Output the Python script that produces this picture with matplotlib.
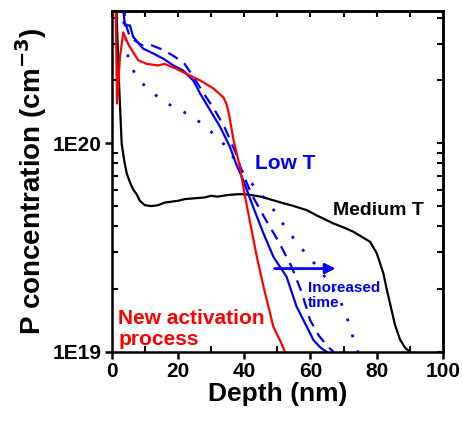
import matplotlib
matplotlib.use("Agg")
import matplotlib.pyplot as plt
from matplotlib.ticker import FixedLocator, LogLocator, NullFormatter, MultipleLocator

plt.rcParams['font.family'] = ['Liberation Sans', 'DejaVu Sans']
plt.rcParams['font.weight'] = 'bold'

# Medium T (black)
med_x = [1.4, 2.0, 3.0, 3.7, 4.5, 5.5, 6.5, 7.5, 8.5, 10, 12, 14, 16, 18, 20, 22, 25, 28, 30, 32,
         35, 38, 40, 42, 45, 48.8, 52, 55, 58.9, 62, 66.9, 70, 72.9, 75, 78, 80, 82, 83, 84, 85.5,
         87, 88.5, 90, 91]
med_y = [4.6e20, 2.31e20, 1.0e20, 8.4e19, 7.2e19, 6.5e19, 6.0e19, 5.7e19, 5.3e19, 5.05e19, 5.0e19,
         5.05e19, 5.2e19, 5.25e19, 5.3e19, 5.4e19, 5.45e19, 5.5e19, 5.6e19, 5.55e19, 5.65e19, 5.7e19,
         5.7e19, 5.65e19, 5.55e19, 5.33e19, 5.15e19, 5.0e19, 4.78e19, 4.5e19, 4.13e19, 3.95e19,
         3.77e19, 3.6e19, 3.37e19, 2.97e19, 2.38e19, 2.0e19, 1.71e19, 1.35e19, 1.15e19, 1.05e19,
         1.0e19, 0.98e19]

# New activation process (red)
new_x = [1.2, 1.6, 2.5, 3.5, 4.5, 5.5, 8, 10.6, 14, 16, 19.6, 22.6, 26.7, 30.7, 33.7, 34.6, 35.4,
         36.7, 38.7, 40.2, 42, 43.8, 46, 48.8, 51, 52.3]
new_y = [4.6e20, 1.55e20, 2.6e20, 3.4e20, 3.1e20, 2.89e20, 2.5e20, 2.4e20, 2.36e20, 2.4e20, 2.27e20,
         2.15e20, 2.0e20, 1.83e20, 1.66e20, 1.55e20, 1.38e20, 1.05e20, 7.7e19, 5.6e19, 4.0e19,
         2.86e19, 2.0e19, 1.32e19, 1.12e19, 1.0e19]

# Low T, shortest time (blue solid)
low1_x = [3.2, 3.6, 4.0, 5.5, 6.5, 9.5, 12.6, 15.6, 18.6, 21.6, 24.6, 26.7, 29.7, 32.7, 35.7, 37.5,
          39.7, 42.7, 45.8, 48.8, 50.5, 52.8, 55.8, 58.9, 60.9, 63, 64.9]
low1_y = [4.6e20, 4.2e20, 3.67e20, 3.67e20, 3.23e20, 2.84e20, 2.69e20, 2.54e20, 2.36e20, 2.23e20,
          2.0e20, 1.73e20, 1.44e20, 1.2e20, 9.6e19, 8.0e19, 6.65e19, 4.95e19, 3.7e19, 2.86e19,
          2.6e19, 2.29e19, 1.65e19, 1.32e19, 1.14e19, 1.05e19, 1.0e19]

# Low T, longer time (blue dashed)
low2_x = [3.5, 4.5, 5.5, 9, 12, 15.6, 19, 22, 24.5, 27.6, 31, 34, 37.3, 39.5, 42.2, 46.3, 50.3,
          54.3, 57.3, 59.9, 62.5, 65, 67]
low2_y = [4.6e20, 3.6e20, 3.23e20, 2.95e20, 2.95e20, 2.8e20, 2.6e20, 2.4e20, 2.1e20, 1.75e20,
          1.45e20, 1.2e20, 9.1e19, 7.2e19, 5.7e19, 4.35e19, 3.4e19, 2.56e19, 1.94e19, 1.42e19,
          1.2e19, 1.07e19, 1.0e19]

# Low T, longest time (blue dotted)
low3_x = [2.8, 3.5, 4.2, 5, 7, 10.6, 14.6, 18.6, 22.6, 26.7, 30.7, 34.7, 39.7, 43.8, 47.8, 50.8,
          53.8, 56.8, 62.9, 66, 68.9, 70.9, 71.9, 73, 74.3]
low3_y = [4.6e20, 4.0e20, 3.2e20, 2.55e20, 2.15e20, 1.83e20, 1.64e20, 1.49e20, 1.39e20, 1.26e20,
          1.11e20, 9.6e19, 7.2e19, 6.0e19, 5.1e19, 4.3e19, 3.7e19, 3.2e19, 2.47e19, 2.1e19,
          1.77e19, 1.48e19, 1.32e19, 1.15e19, 1.0e19]

blue = '#0000FF'
red = '#FF0000'

fig = plt.figure(figsize=(4.62, 4.25), dpi=100)
ax = fig.add_axes([0.2418, 0.1718, 0.9589 - 0.2418, 0.974 - 0.1718])

ax.plot(med_x, med_y, color='black', lw=1.6)
ax.plot(low3_x, low3_y, color=blue, lw=2.0, linestyle=(0, (1, 5)))
ax.plot(low2_x, low2_y, color=blue, lw=1.6, linestyle=(0, (5, 3.5)))
ax.plot(low1_x, low1_y, color=blue, lw=1.6)
ax.plot(new_x, new_y, color=red, lw=1.6)

ax.set_yscale('log')
ax.set_xlim(0, 100)
ax.set_ylim(1e19, 4.3e20)

ax.xaxis.set_major_locator(MultipleLocator(20))
ax.xaxis.set_minor_locator(MultipleLocator(10))
ax.yaxis.set_major_locator(FixedLocator([1e19, 1e20]))
ax.set_yticklabels(['1E19', '1E20'])
ax.yaxis.set_minor_locator(LogLocator(base=10, subs=range(2, 10)))
ax.yaxis.set_minor_formatter(NullFormatter())

ax.tick_params(which='major', direction='out', length=5, width=1.8, labelsize=15, pad=2)
ax.tick_params(which='minor', direction='in', length=4, width=1.5)
for lab in ax.get_xticklabels() + ax.get_yticklabels():
    lab.set_fontweight('bold')

top = ax.secondary_xaxis('top')
top.xaxis.set_major_locator(MultipleLocator(10))
top.tick_params(direction='in', length=4, width=1.5, labeltop=False)
right = ax.secondary_yaxis('right')
right.yaxis.set_major_locator(FixedLocator([1e19, 1e20]))
right.yaxis.set_minor_locator(LogLocator(base=10, subs=range(2, 10)))
right.yaxis.set_minor_formatter(NullFormatter())
right.tick_params(which='both', direction='in', length=4, width=1.5, labelright=False)

for sp in ax.spines.values():
    sp.set_linewidth(1.8)
for sp in list(top.spines.values()) + list(right.spines.values()):
    sp.set_linewidth(1.8)

ax.set_xlabel('Depth (nm)', fontsize=19, fontweight='bold', labelpad=1)
ax.set_ylabel('P concentration (cm$^{\\mathbf{-3}}$)', fontsize=20, fontweight='bold', labelpad=3)

ax.text(43.3, 8.0e19, 'Low T', color=blue, fontsize=15, fontweight='bold', va='center', ha='left')
ax.text(66.8, 4.75e19, 'Medium T', color='black', fontsize=14, fontweight='bold', va='center', ha='left')
ax.text(59.3, 1.87e19, 'Inoreased\ntime', color=blue, fontsize=11, fontweight='bold',
        va='center', ha='left', linespacing=1.1)
ax.text(2.0, 1.29e19, 'New activation\nprocess', color=red, fontsize=15, fontweight='bold',
        va='center', ha='left', linespacing=1.15)
ax.annotate('', xy=(68.4, 2.51e19), xytext=(48.3, 2.51e19),
            arrowprops=dict(arrowstyle='-|>', color=blue, lw=2, mutation_scale=15))

fig.savefig('out.png', dpi=100)
